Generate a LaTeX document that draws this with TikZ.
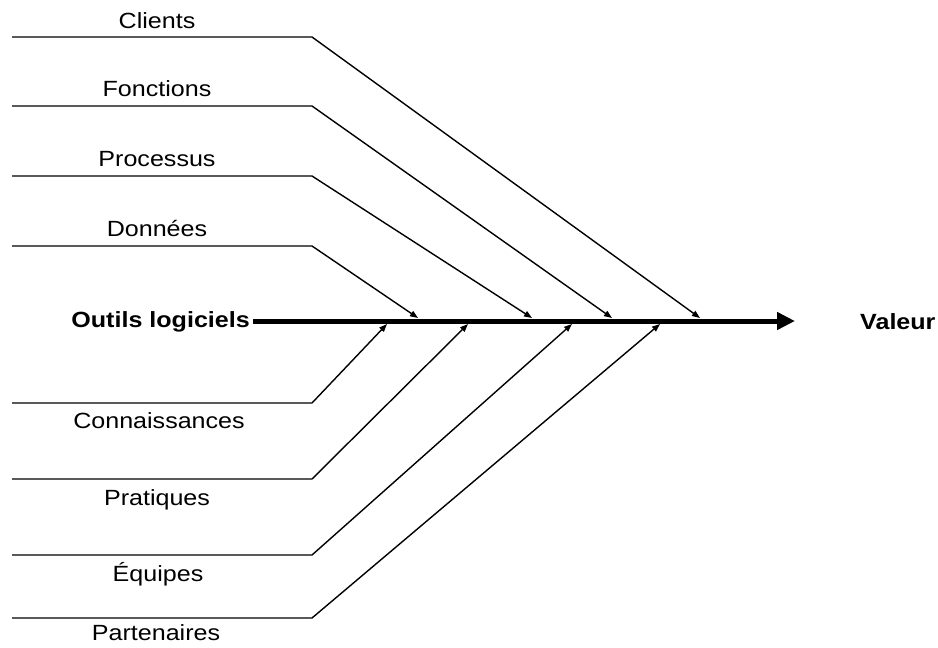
\documentclass[tikz,border=0pt]{standalone}
\usepackage{fontspec}
\setmainfont{Liberation Sans}[FakeStretch=1.14]
\usetikzlibrary{arrows.meta}
\begin{document}
\begin{tikzpicture}[x=1pt,y=-1pt,
  bone/.style={line width=1.4pt,-{Triangle[length=8pt,width=6pt]}},
  spine/.style={line width=5pt,-{Triangle[length=18pt,width=17pt]}},
  lbl/.style={font=\fontsize{22}{25}\selectfont,anchor=base,inner sep=0pt},
  head/.style={font=\fontsize{22}{25}\selectfont\bfseries,inner sep=0pt}]
\useasboundingbox (0,0) rectangle (938,648);

% labels above and below the bones
\node[lbl] (lClients)  at (157,28)  {Clients};
\node[lbl] (lFonct)    at (157,96)  {Fonctions};
\node[lbl] (lProc)     at (157,166) {Processus};
\node[lbl] (lDonn)     at (157,236) {Données};
\node[lbl] (lConn)     at (159,428) {Connaissances};
\node[lbl] (lPrat)     at (157,505) {Pratiques};
\node[lbl] (lEquip)    at (158,581) {Équipes};
\node[lbl] (lPart)     at (156,640) {Partenaires};

% cause and effect
\node[head,anchor=east] (src) at (250,322) {Outils logiciels};
\node[head,anchor=west] (val) at (860,322) {Valeur};
\coordinate (spineEnd) at (795,321);
\draw[spine] (src.east) ++(3,-1) -- (spineEnd);

% upper bones
\foreach \n/\y/\tx in {a/37/700, b/106/612, c/176/532, d/246/418}{
  \coordinate (s\n) at (12,\y);
  \coordinate (k\n) at (312,\y);
  \coordinate (t\n) at (\tx,318);
  \draw[bone] (s\n) -- (k\n) -- (t\n);
}
% lower bones
\foreach \n/\y/\tx in {e/403/387, f/479/468, g/555/572, h/618/660}{
  \coordinate (s\n) at (12,\y);
  \coordinate (k\n) at (312,\y);
  \coordinate (t\n) at (\tx,324);
  \draw[bone] (s\n) -- (k\n) -- (t\n);
}
\end{tikzpicture}
\end{document}
